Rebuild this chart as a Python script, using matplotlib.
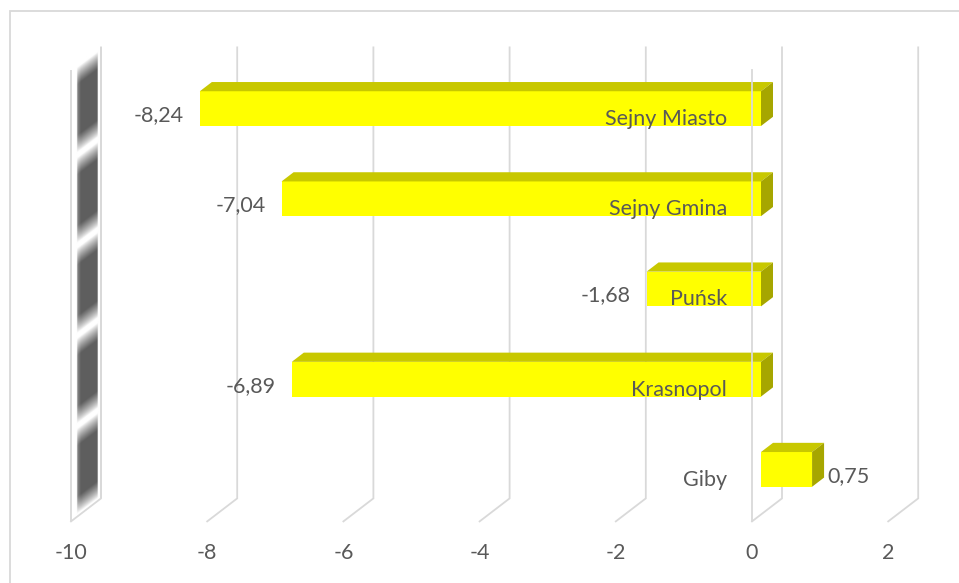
import numpy as np
import matplotlib
matplotlib.use("Agg")
import matplotlib.pyplot as plt
from matplotlib.patches import Polygon, Rectangle

# ---------------- data ----------------
categories = ["Sejny Miasto", "Sejny Gmina", "Puńsk", "Krasnopol", "Giby"]
values = [-8.24, -7.04, -1.68, -6.89, 0.75]
value_labels = ["-8,24", "-7,04", "-1,68", "-6,89", "0,75"]
xticks = [-10, -8, -6, -4, -2, 0, 2]
xtick_labels = ["-10", "-8", "-6", "-4", "-2", "0", "2"]

# ---------------- style / layout ----------------
W, H = 959, 583
PX_UNIT = 68.1          # pixels per value unit
PX_ROW = 90.2           # pixels per category row
X_ORIGIN_PX = 71        # pixel of value -10 on front plane
ROW0_PX = 115.5         # pixel of row 0 on front plane
DX = 30 / PX_UNIT       # depth offset (value units) for full depth
DY = -23 / PX_ROW       # depth offset (row units) for full depth
VMIN, VMAX = -10, 2
RMIN, RMAX = -0.5, len(categories) - 0.5
BAR_H = 0.385
D_FRONT, D_BACK = 0.3, 0.7

GRID = "#D9D9D9"
TXT = "#595959"
YEL = "#FFFF00"
YEL_TOP = "#C8C800"
YEL_SIDE = "#A6A600"
FONT = "Lato"
FS = 15.5

def P(v, r, d):
    return (v + DX * d, r + DY * d)

fig = plt.figure(figsize=(W / 100, H / 100), dpi=100)
ax = fig.add_axes([0, 0, 1, 1])
ax.axis("off")

# ---------------- wall (gradient band at value -10) ----------------
nx, ny = 80, 1200
v0, v1 = VMIN, VMIN + DX
rt, rb = RMIN + DY, RMAX
vv = np.linspace(v0, v1, nx)
rr = np.linspace(rt, rb, ny)
V, R = np.meshgrid(vv, rr)
d = (V - VMIN) / DX
rf = R - DY * d
inside = (d >= 0.2) & (d <= 0.87) & (rf >= RMIN) & (rf <= RMAX)
frac = np.mod(rf - RMIN, 1.0)
b = np.minimum(frac, 1 - frac)
dark = np.clip((b - 0.03) / 0.19, 0, 1) ** 0.8
hfac = 0.75 + 0.25 * np.clip((d - 0.2) / 0.12, 0, 1)
k = dark * hfac
gray = 0.37
col = 1 - k * (1 - gray)
img = np.ones((ny, nx, 4))
img[..., 0] = col
img[..., 1] = col
img[..., 2] = col
img[..., 3] = np.where(inside, 1.0, 0.0)
ax.imshow(img, extent=(v0, v1, rb, rt), origin="upper", aspect="auto",
          interpolation="bilinear", zorder=1)

# wall edges
for dd in (0, 1):
    a = P(VMIN, RMIN, dd)
    c = P(VMIN, RMAX, dd)
    ax.plot([a[0], c[0]], [a[1], c[1]], color=GRID, lw=1.3, zorder=2,
            solid_capstyle="butt")

# ---------------- gridlines ----------------
for t in xticks:
    p0 = P(t, RMAX, 0)
    p1 = P(t, RMAX, 1)
    p2 = P(t, RMIN, 1)
    ax.plot([p0[0], p1[0], p2[0]], [p0[1], p1[1], p2[1]], color=GRID,
            lw=1.3, zorder=2, solid_joinstyle="miter")

# ---------------- bars ----------------
rows = np.arange(len(categories))
ax.barh(rows + DY * D_FRONT, values, left=DX * D_FRONT, height=BAR_H,
        color=YEL, edgecolor="none", zorder=4)
for i, v in enumerate(values):
    lo, hi = min(0, v), max(0, v)
    top = i - BAR_H / 2
    bot = i + BAR_H / 2
    top_face = [P(lo, top, D_FRONT), P(hi, top, D_FRONT),
                P(hi, top, D_BACK), P(lo, top, D_BACK)]
    side_face = [P(hi, top, D_FRONT), P(hi, top, D_BACK),
                 P(hi, bot, D_BACK), P(hi, bot, D_FRONT)]
    ax.add_patch(Polygon(top_face, closed=True, facecolor=YEL_TOP,
                         edgecolor="none", zorder=4))
    ax.add_patch(Polygon(side_face, closed=True, facecolor=YEL_SIDE,
                         edgecolor="none", zorder=4))

# front line at value 0 (category axis)
a = P(0, RMIN, 0)
c = P(0, RMAX, 0)
ax.plot([a[0], c[0]], [a[1], c[1]], color=GRID, lw=1.3, zorder=5)

# ---------------- labels ----------------
lab_x = -0.37
for i, name in enumerate(categories):
    ax.text(lab_x, i + 0.105, name, ha="right", va="baseline",
            fontsize=FS, color=TXT, family=FONT, zorder=6)

for i, (v, s) in enumerate(zip(values, value_labels)):
    if v < 0:
        ax.text(v - 0.103, i + 0.061, s, ha="right", va="baseline",
                fontsize=FS, color=TXT, family=FONT, zorder=6)
    else:
        ax.text(v + 0.352, i + 0.061, s, ha="left", va="baseline",
                fontsize=FS, color=TXT, family=FONT, zorder=6)

tick_r = (553 - ROW0_PX) / PX_ROW
for t, s in zip(xticks, xtick_labels):
    ax.text(t, tick_r, s, ha="center", va="center", fontsize=FS,
            color=TXT, family=FONT, zorder=6)

# ---------------- limits ----------------
ax.set_xlim(VMIN - X_ORIGIN_PX / PX_UNIT, VMIN + (W - X_ORIGIN_PX) / PX_UNIT)
ax.set_ylim((H - ROW0_PX) / PX_ROW, -ROW0_PX / PX_ROW)

# chart border (extends beyond the image on right/bottom)
fig.patches.append(Rectangle((9.5 / W, -0.05), 1.2, 1 - 11 / H + 0.05,
                             transform=fig.transFigure, fill=False,
                             edgecolor=GRID, lw=1.3))

fig.savefig("out.png", dpi=100, facecolor="white")
